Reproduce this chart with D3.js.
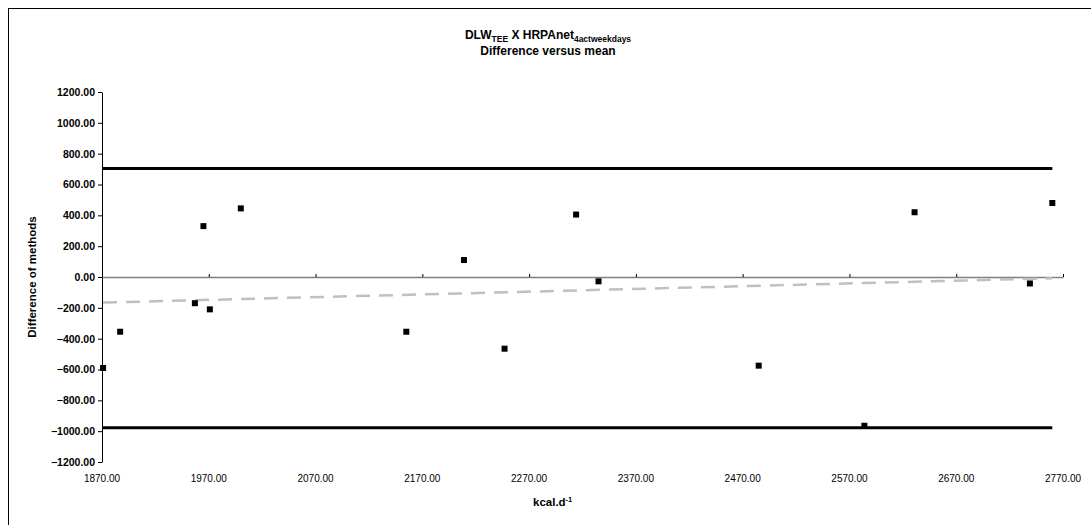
<!DOCTYPE html>
<html>
<head>
<meta charset="utf-8">
<script src="https://cdn.jsdelivr.net/npm/d3@7"></script>
<style>
  body { margin: 0; background: #fff; }
  text { font-family: "Liberation Sans", Arial, sans-serif; }
</style>
</head>
<body>
<div id="chart"></div>
<script>
// 平均値 (kcal.d-1) と差 (方法間)
const meanValues = [1871, 1887, 1957, 1965, 1971, 2000, 2155, 2209, 2247, 2314, 2335, 2485, 2584, 2631, 2739, 2760];
const diffValues = [-590, -355, -170, 330, -210, 445, -355, 110, -465, 405, -28, -575, -965, 420, -42, 480];

// 一致限界と回帰線
const upperLimit = 703;
const lowerLimit = -978;
const trendStart = -166;   // 最小平均での値
const trendEnd = -8;       // 最大平均での値

const xTicks = [1870, 1970, 2070, 2170, 2270, 2370, 2470, 2570, 2670, 2770];
const yTicks = [1200, 1000, 800, 600, 400, 200, 0, -200, -400, -600, -800, -1000, -1200];

const W = 1091, H = 525;
const margin = {top: 92, right: 28, bottom: 63, left: 102};
const width = W - margin.left - margin.right;
const height = H - margin.top - margin.bottom;

const svg = d3.select("#chart").append("svg")
  .attr("width", W)
  .attr("height", H);

// 外枠 (右と下は画面外)
svg.append("rect")
  .attr("x", 8.5).attr("y", 8.5)
  .attr("width", W + 20).attr("height", H + 20)
  .attr("fill", "none")
  .attr("stroke", "#000")
  .attr("stroke-width", 1);

const g = svg.append("g")
  .attr("transform", "translate(" + margin.left + "," + margin.top + ")");

const x = d3.scaleLinear().domain([1870, 2770]).range([0, width]);
const y = d3.scaleLinear().domain([-1200, 1200]).range([height, 0]);

const fmt = d3.format(".2f");

// y軸
const yAxis = g.append("g")
  .call(d3.axisLeft(y).tickValues(yTicks).tickSize(4).tickSizeOuter(0).tickFormat(fmt));
yAxis.selectAll("text")
  .attr("font-size", 10.5)
  .attr("font-weight", "bold")
  .attr("fill", "#000");
yAxis.selectAll("line, path").attr("stroke", "#000");

// x軸 (ゼロの位置に線、ラベルは下)
const xAxis = g.append("g")
  .attr("transform", "translate(0," + y(0) + ")")
  .call(d3.axisTop(x).tickValues(xTicks).tickSize(3).tickSizeOuter(0).tickFormat(""));
xAxis.select("path").attr("stroke", "#808080").attr("stroke-width", 1.5);
xAxis.selectAll("line").attr("stroke", "#000");

g.append("g")
  .selectAll("text")
  .data(xTicks)
  .join("text")
  .attr("x", d => x(d))
  .attr("y", height + 20)
  .attr("text-anchor", "middle")
  .attr("font-size", 10)
  .text(d => fmt(d));

const xMin = d3.min(meanValues), xMax = d3.max(meanValues);

// 一致限界
g.selectAll(".limit")
  .data([upperLimit, lowerLimit])
  .join("line")
  .attr("class", "limit")
  .attr("x1", x(xMin) - 1).attr("x2", x(xMax))
  .attr("y1", d => y(d)).attr("y2", d => y(d))
  .attr("stroke", "#000")
  .attr("stroke-width", 3);

// 回帰線 (破線)
g.append("line")
  .attr("x1", x(xMin)).attr("x2", x(xMax))
  .attr("y1", y(trendStart)).attr("y2", y(trendEnd))
  .attr("stroke", "#c0c0c0")
  .attr("stroke-width", 2.5)
  .attr("stroke-dasharray", "14,9");

// 点
g.selectAll(".pt")
  .data(meanValues.map((m, i) => ({m: m, d: diffValues[i]})))
  .join("rect")
  .attr("class", "pt")
  .attr("x", d => x(d.m) - 3)
  .attr("y", d => y(d.d) - 3)
  .attr("width", 6)
  .attr("height", 6)
  .attr("fill", "#000");

// タイトル
const title = svg.append("text")
  .attr("x", 548).attr("y", 39)
  .attr("text-anchor", "middle")
  .attr("font-size", 12)
  .attr("font-weight", "bold");
title.append("tspan").text("DLW");
title.append("tspan").attr("font-size", 8.5).attr("dy", 3).text("TEE");
title.append("tspan").attr("dy", -3).text(" X HRPAnet");
title.append("tspan").attr("font-size", 8.5).attr("dy", 3).text("4actweekdays");

svg.append("text")
  .attr("x", 548).attr("y", 55)
  .attr("text-anchor", "middle")
  .attr("font-size", 12)
  .attr("font-weight", "bold")
  .text("Difference versus mean");

// 軸タイトル
svg.append("text")
  .attr("transform", "translate(36," + (margin.top + y(0)) + ") rotate(-90)")
  .attr("text-anchor", "middle")
  .attr("font-size", 11.5)
  .attr("font-weight", "bold")
  .text("Difference of methods");

const xt = svg.append("text")
  .attr("x", 533).attr("y", 506)
  .attr("font-size", 11.5)
  .attr("font-weight", "bold");
xt.append("tspan").text("kcal.d");
xt.append("tspan").attr("font-size", 7.5).attr("dy", -4).text("-1");
</script>
</body>
</html>
